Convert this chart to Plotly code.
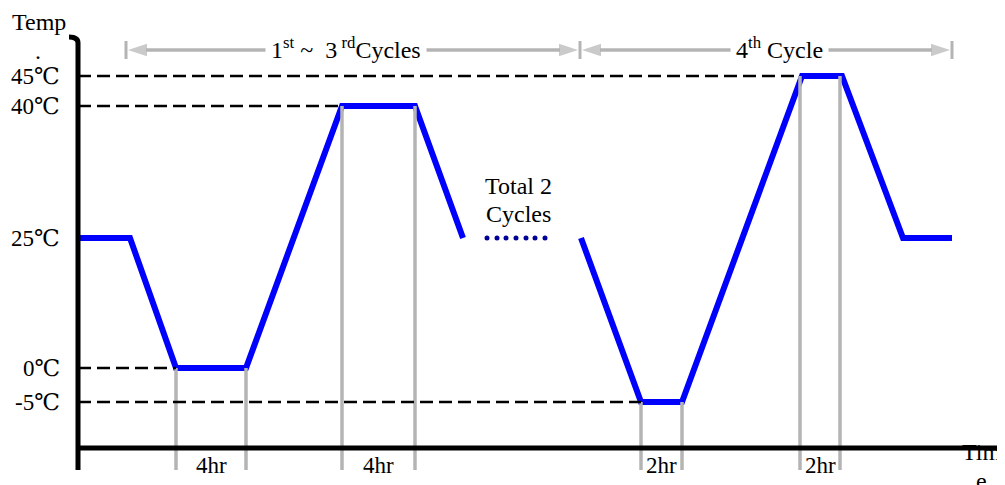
import plotly.graph_objects as go

# schematic chart: temperature levels are not to scale, so each tick gets its own height
temp_ticks = [45, 40, 25, 0, -5]
tick_labels = ['45℃', '40℃', '25℃', '0℃', '-5℃']
tick_heights = [372, 342, 210, 80, 46]
level = dict(zip(temp_ticks, tick_heights))

# time axis in schematic units
cycle1_t = [2, 52, 98, 168, 264, 337, 385]
cycle1_temp = [25, 25, 0, 0, 40, 40, 25]
cycle4_t = [503, 563, 604, 724, 764, 825, 874]
cycle4_temp = [25, -5, -5, 45, 45, 25, 25]
dots_t = [409, 419, 428, 438, 448, 457, 467]
dots_temp = [25] * 7

# hold periods (start, end, temp, label)
hold_start = [98, 264, 563, 722]
hold_end = [168, 337, 604, 762]
hold_temp = [0, 40, -5, 45]
hold_labels = ['4hr', '4hr', '2hr', '2hr']

# dashed guide lines end where the profile first reaches the level
guide_temp = [45, 40, 0, -5]
guide_end = [722, 264, 98, 563]

bracket_start = [48, 502]
bracket_end = [502, 874]
bracket_labels = ['1<sup>st</sup> ~  3<sup> rd</sup>Cycles', '4<sup>th</sup> Cycle']
bracket_mid = [268, 701]

BLUE = '#0000ff'
GRAY = '#b4b4b4'
FONT = 'Liberation Serif, Times New Roman, DejaVu Serif, serif'
Y_BASE = -22
Y_BRACKET = 398


def txt(size=24):
    return dict(family=FONT, size=size, color='black')


fig = go.Figure()
shapes = []
annotations = []

# gray hold markers
for s, e, t in zip(hold_start, hold_end, hold_temp):
    for xv in (s, e):
        shapes.append(dict(type='line', xref='x', yref='y', x0=xv, x1=xv,
                           y0=level[t], y1=Y_BASE, line=dict(color=GRAY, width=3.5)))

# dashed guides
for t, xe in zip(guide_temp, guide_end):
    shapes.append(dict(type='line', xref='x', yref='y', x0=0, x1=xe,
                       y0=level[t], y1=level[t],
                       line=dict(color='black', width=2.5, dash='13px,6px')))

# axes
shapes.append(dict(type='line', xref='x', yref='y', x0=0, x1=940, y0=0, y1=0,
                   line=dict(color='black', width=5)))
shapes.append(dict(type='path', xref='x', yref='y',
                   path='M 0 -22 L 0 405 Q 0 411 -9 411',
                   line=dict(color='black', width=5)))

# bracket end ticks
for xv in (48, 502, 874):
    shapes.append(dict(type='line', xref='x', yref='y', x0=xv, x1=xv,
                       y0=Y_BRACKET - 9, y1=Y_BRACKET + 9,
                       line=dict(color=GRAY, width=3)))

# bracket arrows: line from the label to each end, arrow head at the end
for s, e, m in zip(bracket_start, bracket_end, bracket_mid):
    for head in (s + 2, e - 2):
        fig.add_trace(go.Scatter(
            x=[m, head], y=[Y_BRACKET, Y_BRACKET], mode='lines+markers',
            line=dict(color=GRAY, width=3.5),
            marker=dict(symbol='arrow', angleref='previous', size=[0, 20],
                        color=GRAY, line=dict(width=0)),
            hoverinfo='skip'))

fig.add_trace(go.Scatter(x=cycle1_t, y=[level[t] for t in cycle1_temp], mode='lines',
                         line=dict(color=BLUE, width=6), hoverinfo='skip'))
fig.add_trace(go.Scatter(x=cycle4_t, y=[level[t] for t in cycle4_temp], mode='lines',
                         line=dict(color=BLUE, width=6), hoverinfo='skip'))
fig.add_trace(go.Scatter(x=dots_t, y=[level[t] for t in dots_temp], mode='markers',
                         marker=dict(color='#000099', size=5), hoverinfo='skip'))

for m, lab in zip(bracket_mid, bracket_labels):
    annotations.append(dict(x=m, y=Y_BRACKET + 2, xref='x', yref='y', text=lab,
                            showarrow=False, bgcolor='white', borderpad=5, font=txt(24)))

# y tick labels
for h, lab in zip(tick_heights, tick_labels):
    annotations.append(dict(x=-16, y=h, xref='x', yref='y', text=lab, showarrow=False,
                            xanchor='right', font=txt(23)))

# hold labels
for s, e, lab in zip(hold_start, hold_end, hold_labels):
    annotations.append(dict(x=(s + e) / 2, y=-17, xref='x', yref='y', text=lab,
                            showarrow=False, font=txt(23)))

annotations += [
    dict(x=440, y=262, xref='x', yref='y', text='Total 2', showarrow=False, font=txt(24)),
    dict(x=440, y=234, xref='x', yref='y', text='Cycles', showarrow=False, font=txt(24)),
    dict(x=-39, y=426, xref='x', yref='y', text='Temp', showarrow=False, font=txt(24)),
    dict(x=-40, y=397, xref='x', yref='y', text='.', showarrow=False, font=txt(24)),
    dict(x=903, y=-4, xref='x', yref='y', text='Tim', showarrow=False, font=txt(24)),
    dict(x=903, y=-33, xref='x', yref='y', text='e', showarrow=False, font=txt(24)),
]

# the page puts the plot 8px in from the top-left corner, ranges account for that
fig.update_layout(
    width=1005, height=485,
    margin=dict(l=0, r=0, t=0, b=0),
    paper_bgcolor='white', plot_bgcolor='white',
    showlegend=False,
    xaxis=dict(range=[-70, 935], visible=False, fixedrange=True),
    yaxis=dict(range=[-45, 440], visible=False, fixedrange=True),
    shapes=shapes,
    annotations=annotations,
)

fig.write_html('out.html')
